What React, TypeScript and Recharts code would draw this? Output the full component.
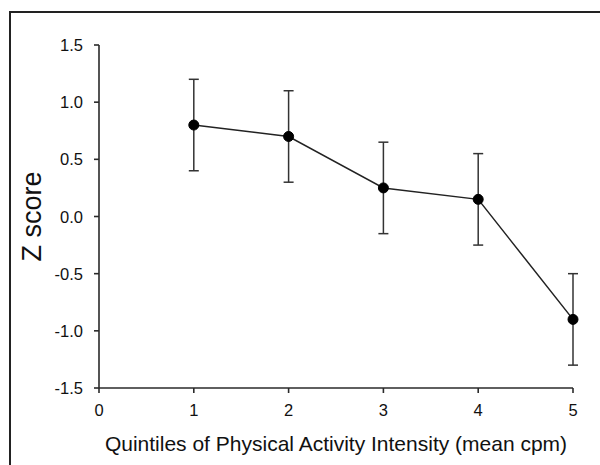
import React from 'react';
import { LineChart, Line, XAxis, YAxis, ErrorBar, Label } from 'recharts';

// quintile means with error bars
const quintiles = [1, 2, 3, 4, 5];
const zScores = [0.8, 0.7, 0.25, 0.15, -0.9];
const errLow = [0.4, 0.4, 0.4, 0.4, 0.4];
const errHigh = [0.4, 0.4, 0.4, 0.4, 0.4];

const xTicks = [0, 1, 2, 3, 4, 5];
const yTicks = [-1.5, -1.0, -0.5, 0.0, 0.5, 1.0, 1.5];

const data = quintiles.map((q, i) => ({
  q,
  z: zScores[i],
  err: [errLow[i], errHigh[i]],
}));

if (typeof document !== 'undefined') {
  document.body.style.margin = '0';
}

const FONT = '"Liberation Sans", Arial, sans-serif';
const INK = '#111111';
const AXIS = '#2a2a2a';
const TICK_FS = 16.5;

const XTick = ({ x, y, payload }: any) => (
  <text x={x} y={y + 17} textAnchor="middle" dominantBaseline="central" fill={INK} fontSize={TICK_FS} fontFamily={FONT}>
    {payload.value}
  </text>
);

const YTick = ({ x, y, payload }: any) => (
  <text x={x - 11} y={y} textAnchor="end" dominantBaseline="central" fill={INK} fontSize={TICK_FS} fontFamily={FONT}>
    {Number(payload.value).toFixed(1)}
  </text>
);

export default function App() {
  return (
    <div style={{ position: 'relative', width: 600, height: 465, overflow: 'hidden', background: '#fff', fontFamily: FONT }}>
      <div
        style={{
          position: 'absolute',
          left: 9,
          top: 11,
          width: 700,
          height: 600,
          borderLeft: '2px solid #222',
          borderTop: '2px solid #222',
        }}
      />
      <LineChart
        width={600}
        height={465}
        data={data}
        margin={{ top: 45, right: 27, left: 0, bottom: 0 }}
        style={{ position: 'absolute', left: 0, top: 0 }}
      >
        <XAxis
          dataKey="q"
          type="number"
          domain={[0, 5]}
          ticks={xTicks}
          height={77}
          tickSize={5}
          tickMargin={0}
          stroke={AXIS}
          strokeWidth={1.6}
          tick={<XTick />}
        >
          <Label
            content={({ viewBox }: any) => (
              <text
                x={viewBox.x + viewBox.width / 2}
                y={viewBox.y + 55}
                textAnchor="middle"
                dominantBaseline="central"
                fill={INK}
                fontSize={21}
                fontFamily={FONT}
              >
                Quintiles of Physical Activity Intensity (mean cpm)
              </text>
            )}
          />
        </XAxis>
        <YAxis
          type="number"
          domain={[-1.5, 1.5]}
          ticks={yTicks}
          width={99}
          tickSize={5}
          tickMargin={0}
          stroke={AXIS}
          strokeWidth={1.6}
          tick={<YTick />}
        >
          <Label
            content={({ viewBox }: any) => {
              const cx = 32;
              const cy = viewBox.y + viewBox.height / 2;
              return (
                <text
                  x={cx}
                  y={cy}
                  transform={`rotate(-90 ${cx} ${cy})`}
                  textAnchor="middle"
                  dominantBaseline="central"
                  fill={INK}
                  fontSize={27}
                  fontFamily={FONT}
                >
                  Z score
                </text>
              );
            }}
          />
        </YAxis>
        <Line
          dataKey="z"
          stroke="#222"
          strokeWidth={1.5}
          dot={{ r: 5, fill: '#000', stroke: '#000', strokeWidth: 1 }}
          activeDot={false}
          isAnimationActive={false}
        >
          <ErrorBar dataKey="err" width={5} stroke="#333" strokeWidth={1.5} direction="y" />
        </Line>
      </LineChart>
    </div>
  );
}
